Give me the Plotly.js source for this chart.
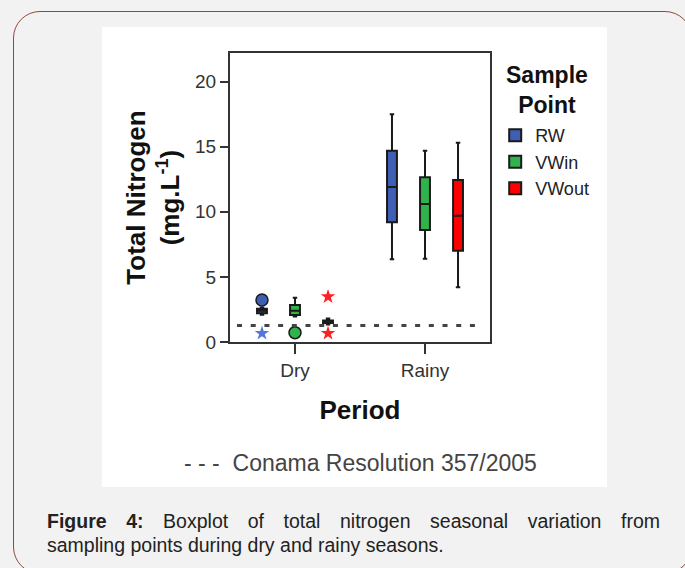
<!DOCTYPE html>
<html><head><meta charset="utf-8">
<script src="https://cdn.plot.ly/plotly-3.0.1.min.js"></script>
<style>
html,body{margin:0;padding:0;width:685px;height:568px;overflow:hidden;background:#f2f2f2;}
#frame{position:absolute;left:13px;top:11px;width:679px;height:563px;border:1.5px solid #8e4b3b;border-radius:27px;box-sizing:border-box;}
#chart{position:absolute;left:102px;top:27px;width:505px;height:460px;background:#fff;}
#caption{position:absolute;left:47px;top:509px;width:613px;font-family:"Liberation Sans",Arial,sans-serif;font-size:19.5px;line-height:24px;color:#222;}
.l1{text-align:justify;text-align-last:justify;}
</style></head>
<body>
<div id="frame"></div>
<div id="chart"></div>
<div id="caption"><div class="l1"><b>Figure 4:</b> Boxplot of total nitrogen seasonal variation from</div><div>sampling points during dry and rainy seasons.</div></div>
<script>
// Categories
const periods = ['Dry', 'Rainy'];
const samplePoints = ['RW', 'VWin', 'VWout'];

// RW box statistics (Dry, Rainy)
const rwLower = [2.1, 6.35];
const rwQ1 = [2.2, 9.2];
const rwMedian = [2.4, 11.9];
const rwQ3 = [2.55, 14.7];
const rwUpper = [2.65, 17.5];

// VWin box statistics
const vwinLower = [1.95, 6.4];
const vwinQ1 = [2.08, 8.6];
const vwinMedian = [2.4, 10.6];
const vwinQ3 = [2.85, 12.65];
const vwinUpper = [3.4, 14.7];

// VWout box statistics
const vwoutLower = [1.35, 4.2];
const vwoutQ1 = [1.45, 7.0];
const vwoutMedian = [1.55, 9.7];
const vwoutQ3 = [1.65, 12.45];
const vwoutUpper = [1.8, 15.3];

// Outliers (circles) and extremes (stars)
const rwOutlierPeriod = ['Dry'];
const rwOutlierValue = [3.23];
const rwExtremePeriod = ['Dry'];
const rwExtremeValue = [0.67];
const vwinOutlierPeriod = ['Dry'];
const vwinOutlierValue = [0.72];
const vwoutExtremePeriod = ['Dry', 'Dry'];
const vwoutExtremeValue = [3.48, 0.67];

// Reference limit (Conama Resolution 357/2005)
const conamaLimit = 1.27;

const fills = ['#3f5fb5', '#2fb34a', '#ff0000'];
const starColors = ['#5577dd', '#2fb34a', '#ff2020'];
const boxStats = [
  [rwLower, rwQ1, rwMedian, rwQ3, rwUpper],
  [vwinLower, vwinQ1, vwinMedian, vwinQ3, vwinUpper],
  [vwoutLower, vwoutQ1, vwoutMedian, vwoutQ3, vwoutUpper]
];

const traces = samplePoints.map((name, i) => ({
  type: 'box', name: name, x: periods,
  lowerfence: boxStats[i][0], q1: boxStats[i][1], median: boxStats[i][2],
  q3: boxStats[i][3], upperfence: boxStats[i][4],
  offsetgroup: name, fillcolor: fills[i],
  line: {color: '#1a1a1a', width: 2}, whiskerwidth: 0.45,
  boxpoints: false, hoverinfo: 'y'
}));

const circle = (name, i, xs, ys) => ({
  type: 'scatter', mode: 'markers', x: xs, y: ys, offsetgroup: name, showlegend: false,
  marker: {symbol: 'circle', size: 12, color: fills[i], line: {color: '#1a1a1a', width: 1.5}}
});
const star = (name, i, xs, ys) => ({
  type: 'scatter', mode: 'markers', x: xs, y: ys, offsetgroup: name, showlegend: false,
  marker: {symbol: 'star', size: 11, color: starColors[i], line: {width: 0}}
});

traces.push(circle('RW', 0, rwOutlierPeriod, rwOutlierValue));
traces.push(star('RW', 0, rwExtremePeriod, rwExtremeValue));
traces.push(circle('VWin', 1, vwinOutlierPeriod, vwinOutlierValue));
traces.push(star('VWout', 2, vwoutExtremePeriod, vwoutExtremeValue));

const font = '"Liberation Sans", Arial, sans-serif';
const layout = {
  width: 505, height: 460,
  margin: {l: 128, r: 117, t: 26, b: 145},
  paper_bgcolor: '#ffffff', plot_bgcolor: '#ffffff',
  font: {family: font, color: '#222'},
  boxmode: 'group', boxgap: 0.238, boxgroupgap: 0.7,
  scattermode: 'group', scattergap: 0.238,
  showlegend: true,
  legend: {
    x: 1.02, y: 0.778, xanchor: 'left', yanchor: 'top',
    bgcolor: 'rgba(0,0,0,0)', font: {size: 18, color: '#222'},
    tracegroupgap: 0
  },
  xaxis: {
    type: 'category', range: [-0.5, 1.5], automargin: false,
    showline: true, mirror: true, linecolor: '#333', linewidth: 2,
    ticks: 'outside', ticklen: 10, tickwidth: 2, tickcolor: '#333',
    tickfont: {size: 19, color: '#333'}, showgrid: false, zeroline: false,
    title: {text: '<b>Period</b>', font: {size: 26, color: '#111'}, standoff: 21}
  },
  yaxis: {
    range: [0, 22.2], tickvals: [0, 5, 10, 15, 20], automargin: false,
    showline: true, mirror: true, linecolor: '#333', linewidth: 2,
    ticks: 'outside', ticklen: 8, tickwidth: 2, tickcolor: '#333',
    tickfont: {size: 19, color: '#333'}, showgrid: false, zeroline: false,
    title: {text: '<b>Total Nitrogen<br>(mg.L<sup>-1</sup>)</b>', font: {size: 26, color: '#111'}, standoff: 8}
  },
  shapes: [{
    type: 'line', xref: 'paper', yref: 'y', x0: 0.027, x1: 0.973,
    y0: conamaLimit, y1: conamaLimit,
    line: {color: '#444', width: 3, dash: '5px,8.7px'}
  }],
  annotations: [
    {
      xref: 'paper', yref: 'paper', x: 0.5, y: -0.419, xanchor: 'center', yanchor: 'middle',
      showarrow: false, text: '- - -  Conama Resolution 357/2005',
      font: {size: 23, color: '#444'}
    },
    {
      xref: 'paper', yref: 'paper', x: 1.219, y: 0.872, xanchor: 'center', yanchor: 'middle',
      showarrow: false, align: 'center', text: '<b>Sample<br>Point</b>', font: {size: 23, color: '#111'}
    }
  ]
};

Plotly.newPlot('chart', traces, layout, {displayModeBar: false, staticPlot: true});
</script>
</body></html>
